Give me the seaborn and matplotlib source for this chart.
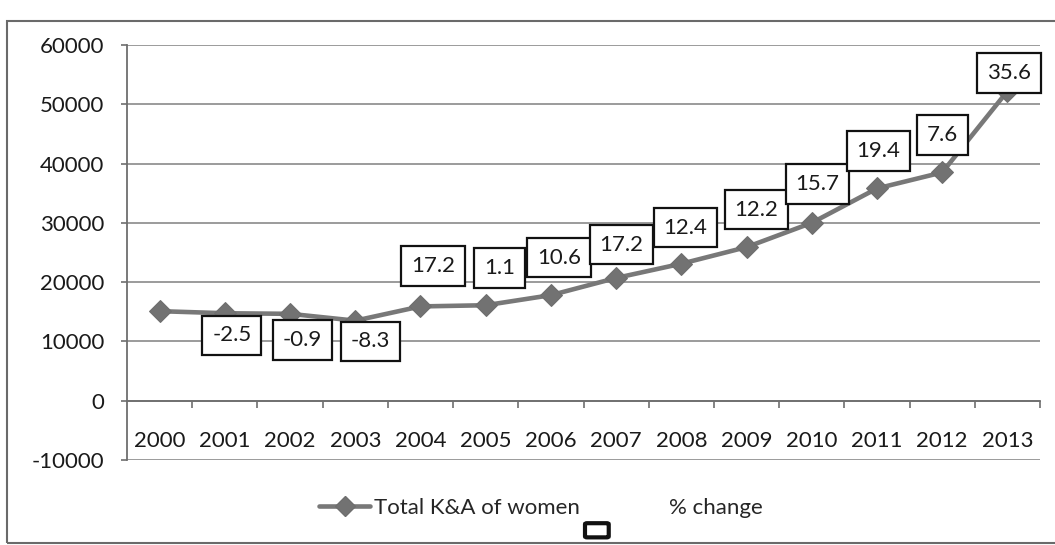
import numpy as np
import pandas as pd
import matplotlib
matplotlib.use("Agg")
import matplotlib.pyplot as plt
from matplotlib.lines import Line2D
from matplotlib.patches import Rectangle, FancyBboxPatch
import seaborn as sns

# Daten
jahre = ['2000', '2001', '2002', '2003', '2004', '2005', '2006',
         '2007', '2008', '2009', '2010', '2011', '2012', '2013']
total_ka = [15100, 14750, 14650, 13500, 15900, 16100, 17800,
            20700, 23100, 25900, 30000, 35800, 38500, 52200]
prozent = [None, -2.5, -0.9, -8.3, 17.2, 1.1, 10.6,
           17.2, 12.4, 12.2, 15.7, 19.4, 7.6, 35.6]
y_ticks = [-10000, 0, 10000, 20000, 30000, 40000, 50000, 60000]

# Versatz der Beschriftungskästen (Punkte, relativ zum Marker)
label_offsets = [None, (5, -16), (9, -19), (11, -15), (9, 29), (10, 27), (6, 27),
                 (4, 24), (3, 26), (7, 27), (4, 28), (1, 27), (0, 27), (1, 13)]

df = pd.DataFrame({'Jahr': jahre, 'Total': total_ka})

sns.set_style("white")
plt.rcParams['font.family'] = ['Lato', 'DejaVu Sans']

grau = '#787878'
achse = '#6e6e6e'
schrift = 16

fig = plt.figure(figsize=(10.55, 5.45), dpi=100)
ax = fig.add_axes([0.1204, 0.156, 0.8654, 0.7615])

sns.lineplot(x='Jahr', y='Total', data=df, ax=ax, color=grau, linewidth=3.3,
             marker='D', markersize=11, markeredgecolor='#6e6e6e',
             markerfacecolor='#727272', sort=False)

ax.set_xlim(-0.5, len(jahre) - 0.5)
ax.set_ylim(-10000, 60000)
ax.set_yticks(y_ticks)
ax.set_yticklabels([str(v) for v in y_ticks], fontsize=schrift)
ax.set_xlabel('')
ax.set_ylabel('')

# Gitterlinien
ax.yaxis.grid(True, color='#8a8a8a', linewidth=1.2)
ax.xaxis.grid(False)
ax.set_axisbelow(True)

# Achsen
for s in ['top', 'right']:
    ax.spines[s].set_visible(False)
ax.spines['left'].set_color(achse)
ax.spines['left'].set_linewidth(1.3)
ax.spines['bottom'].set_position(('data', 0))
ax.spines['bottom'].set_color(achse)
ax.spines['bottom'].set_linewidth(1.3)

ax.tick_params(axis='y', which='major', left=True, length=4.5, width=1.2,
               color=achse, pad=12, labelcolor='#1a1a1a')
ax.set_xticks(range(len(jahre)))
ax.set_xticklabels(jahre, fontsize=schrift, color='#1a1a1a')
ax.tick_params(axis='x', which='major', length=0, pad=22)
ax.set_xticks(np.arange(len(jahre)) + 0.5, minor=True)
ax.tick_params(axis='x', which='minor', bottom=True, length=5, width=1.2,
               color=achse, direction='out')

# Beschriftungen "% change"
for i, (wert, p) in enumerate(zip(total_ka, prozent)):
    if p is None:
        continue
    ax.annotate(f'{p}', xy=(i, wert), xytext=label_offsets[i],
                textcoords='offset points', ha='center', va='center',
                fontsize=schrift, color='#1a1a1a',
                bbox=dict(boxstyle='square,pad=0.44', fc='white',
                          ec='#111111', lw=1.6))

# Legende
handles = [Line2D([0], [0], color=grau, lw=3.3, marker='D', markersize=10,
                  markerfacecolor='#727272', markeredgecolor='#6e6e6e'),
           Line2D([0], [0], color='none')]
fig.legend(handles, ['Total K&A of women', '% change'], loc='center',
           bbox_to_anchor=(0.513, 0.068), ncol=2, frameon=False,
           fontsize=schrift, handlelength=2.3, handletextpad=0.15,
           columnspacing=1.6)
fig.patches.append(FancyBboxPatch((0.5565, 0.016), 0.0185, 0.022,
                                  boxstyle='round,pad=0.002',
                                  transform=fig.transFigure, fc='white',
                                  ec='#111111', lw=3))

# Rahmen des Diagrammbereichs
fig.patches.append(Rectangle((0.0066, 0.004), 1.1, 0.958,
                             transform=fig.transFigure, fill=False,
                             ec='#6a6a6a', lw=1.5))

fig.savefig('out.png', dpi=100)
